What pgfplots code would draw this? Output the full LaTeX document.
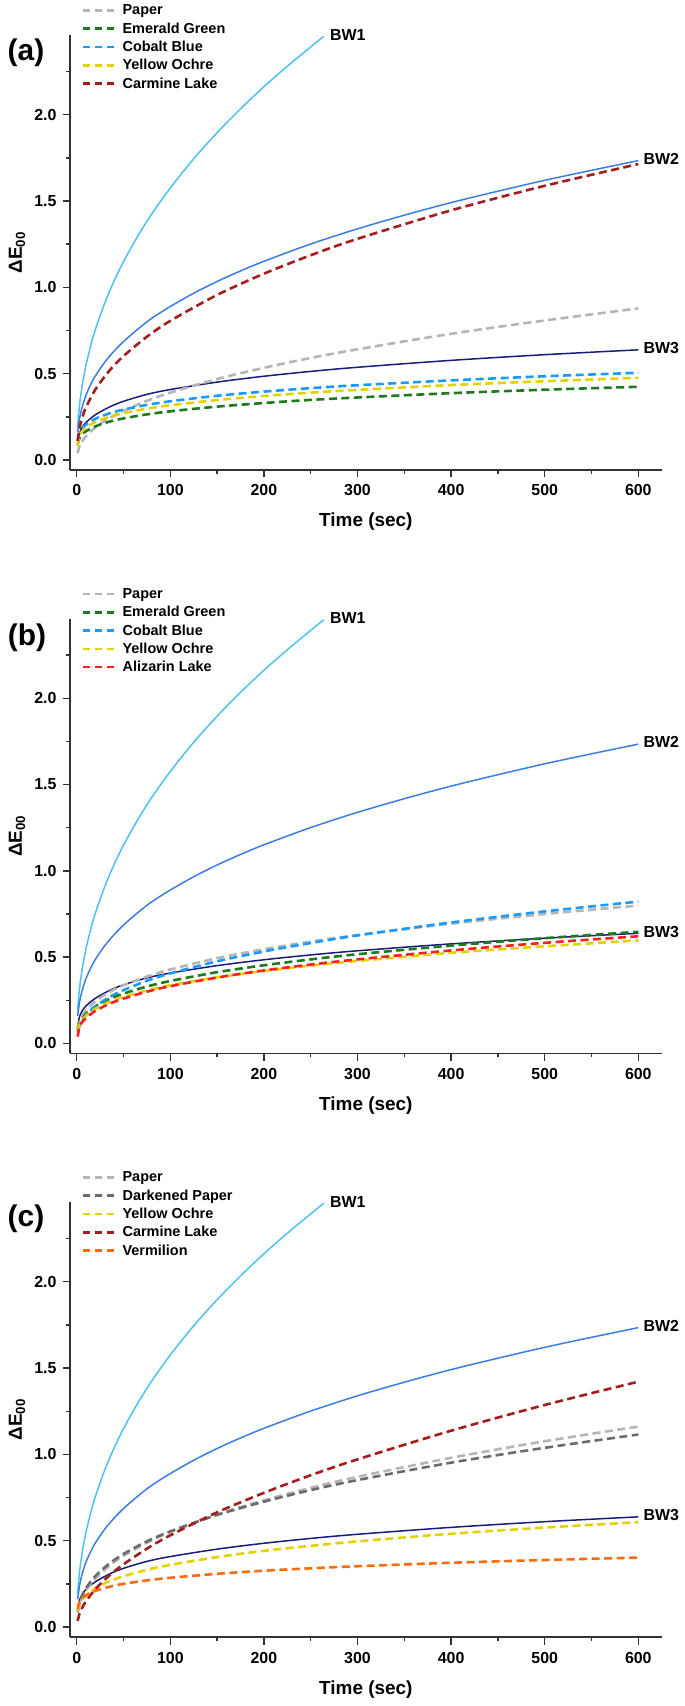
\documentclass[border=0pt]{standalone}
\usepackage{fontspec}
\setmainfont{Liberation Sans}
\usepackage{pgfplots}
\pgfplotsset{compat=1.18}
\definecolor{axgrey}{HTML}{333333}
\definecolor{bwone}{HTML}{4CC2F1}
\definecolor{bwtwo}{HTML}{3B7DE3}
\definecolor{bwthree}{HTML}{1B1B7E}
\definecolor{paper}{HTML}{B5B5B5}
\definecolor{dpaper}{HTML}{6B6B6B}
\definecolor{emerald}{HTML}{1D7A1D}
\definecolor{cobalt}{HTML}{1A9BFF}
\definecolor{ochre}{HTML}{E3D100}
\definecolor{carmine}{HTML}{A51C1C}
\definecolor{alizarin}{HTML}{FF1F1F}
\definecolor{vermilion}{HTML}{FF6A0D}
\tikzset{bwlab/.style={anchor=west, inner sep=0pt, font=\fontsize{16}{16}\selectfont\bfseries}}
\pgfplotsset{
  panel/.style={
    anchor=south west, scale only axis, width=591.7bp, height=434.5bp,
    xmin=-7.2, xmax=625, ymin=-0.058, ymax=2.459, clip=false,
    axis x line=bottom, axis y line=left,
    axis line style={-, line width=1.8bp, draw=axgrey},
    xtick={0,100,200,300,400,500,600}, ytick={0,0.5,1.0,1.5,2.0},
    minor xtick={50,150,250,350,450,550}, minor ytick={0.25,0.75,1.25,1.75,2.25},
    tick align=outside, major tick length=7.5bp, minor tick length=4bp,
    every tick/.style={line width=1.4bp, draw=axgrey},
    /pgf/number format/assume math mode=true,
    tick label style={font=\fontsize{16}{16}\selectfont\bfseries, inner sep=0pt},
    xticklabel style={anchor=base, yshift=-18.5bp},
    yticklabel style={anchor=east, xshift=-5.8bp},
    yticklabel={\pgfmathprintnumber[fixed,fixed zerofill,precision=1]{\tick}},
    xlabel={Time (sec)},
    xlabel style={at={(axis description cs:0.5,0)}, anchor=base, yshift=-57bp, font=\fontsize{19}{19}\selectfont\bfseries, inner sep=0pt},
    ylabel={ΔE\textsubscript{00}},
    ylabel style={at={(axis description cs:-0.0896,0.5)}, anchor=center, font=\fontsize{19}{19}\selectfont\bfseries, inner sep=0pt},
    legend style={at={(axis description cs:0.02028,0.9733)}, anchor=west, draw=none, fill=none,
      inner sep=0pt, outer sep=0pt, row sep=1.3bp,
      font=\fontsize{14.5}{14.5}\selectfont\bfseries,
      nodes={inner sep=1bp, text height=12bp, text depth=3bp}},
    legend cell align=left,
    legend image code/.code={\draw[##1, dash pattern=on 7bp off 5bp] (0bp,0bp) -- (31bp,0bp); \path (37bp,0bp);},
  },
  bw/.style={smooth, line width=1.5bp, forget plot},
  dsh/.style={smooth, line width=2.6bp, dash pattern=on 8bp off 4.5bp},
}
\newcommand{\bwcurves}{%
  \addplot[bw, bwone] coordinates {(1,0.19)(2,0.265)(3,0.318)(4,0.363)(6,0.437)(8,0.498)(10,0.552)(15,0.664)(20,0.757)(30,0.910)(40,1.038)(50,1.149)(65,1.295)(80,1.424)(100,1.576)(125,1.745)(150,1.896)(175,2.034)(200,2.162)(225,2.281)(250,2.393)(264,2.455)};
  \addplot[bw, bwtwo] coordinates {(1,0.16)(3,0.24)(6,0.311)(10,0.377)(15,0.438)(20,0.488)(30,0.567)(40,0.631)(50,0.686)(65,0.757)(80,0.82)(100,0.889)(125,0.966)(150,1.034)(175,1.095)(200,1.151)(250,1.251)(300,1.339)(350,1.418)(400,1.491)(450,1.557)(500,1.62)(550,1.678)(600,1.734)};
  \addplot[bw, bwthree] coordinates {(1,0.10)(3,0.155)(6,0.19)(10,0.218)(20,0.262)(35,0.307)(50,0.340)(75,0.380)(100,0.408)(150,0.451)(200,0.485)(250,0.513)(300,0.537)(400,0.577)(500,0.610)(600,0.638)};
}
\newcommand{\bwlabels}{%
  \node[bwlab, xshift=6bp, yshift=1.6bp] at (axis cs:264,2.455) {BW1};
  \node[bwlab, xshift=5bp, yshift=2bp] at (axis cs:600,1.734) {BW2};
  \node[bwlab, xshift=5bp, yshift=1.4bp] at (axis cs:600,0.638) {BW3};
}
\begin{document}
\begin{tikzpicture}
\path[use as bounding box] (0,0) rectangle (685bp,1706bp);
% ---------------- (a)
\begin{axis}[panel, at={(70bp,1236bp)}]
\bwcurves
\addplot[dsh, paper] coordinates {(1,0.04)(3,0.08)(6,0.109)(10,0.138)(20,0.189)(35,0.243)(50,0.285)(75,0.343)(100,0.39)(150,0.469)(200,0.534)(250,0.591)(300,0.641)(400,0.731)(500,0.808)(600,0.878)};
\addlegendentry{Paper}
\addplot[dsh, emerald] coordinates {(1,0.09)(3,0.127)(6,0.149)(10,0.167)(20,0.195)(35,0.222)(50,0.241)(75,0.264)(100,0.282)(150,0.309)(200,0.33)(250,0.348)(300,0.362)(400,0.387)(500,0.407)(600,0.424)};
\addlegendentry{Emerald Green}
\addplot[dsh, cobalt] coordinates {(1,0.115)(3,0.157)(6,0.183)(10,0.205)(20,0.239)(35,0.27)(50,0.292)(75,0.319)(100,0.34)(150,0.372)(200,0.396)(250,0.416)(300,0.433)(400,0.461)(500,0.485)(600,0.505)};
\addlegendentry{Cobalt Blue}
\addplot[dsh, ochre] coordinates {(1,0.08)(3,0.143)(6,0.167)(10,0.188)(20,0.22)(35,0.25)(50,0.271)(75,0.297)(100,0.317)(150,0.347)(200,0.371)(250,0.39)(300,0.406)(400,0.434)(500,0.456)(600,0.476)};
\addlegendentry{Yellow Ochre}
\addplot[dsh, carmine] coordinates {(1,0.11)(3,0.184)(6,0.247)(10,0.306)(20,0.409)(35,0.518)(50,0.602)(75,0.714)(100,0.806)(150,0.956)(200,1.079)(250,1.186)(300,1.281)(400,1.446)(500,1.588)(600,1.714)};
\addlegendentry{Carmine Lake}
\bwlabels
\end{axis}
% ---------------- (b)
\begin{axis}[panel, at={(70bp,652.5bp)}]
\bwcurves
\addplot[dsh, paper] coordinates {(1,0.087)(3,0.127)(6,0.162)(10,0.193)(20,0.245)(35,0.298)(50,0.337)(75,0.388)(100,0.429)(150,0.494)(200,0.546)(250,0.59)(300,0.628)(400,0.694)(500,0.75)(600,0.799)};
\addlegendentry{Paper}
\addplot[dsh, emerald] coordinates {(1,0.081)(3,0.116)(6,0.145)(10,0.172)(20,0.215)(35,0.258)(50,0.289)(75,0.33)(100,0.362)(150,0.413)(200,0.453)(250,0.487)(300,0.517)(400,0.567)(500,0.61)(600,0.647)};
\addlegendentry{Emerald Green}
\addplot[dsh, cobalt] coordinates {(1,0.067)(3,0.102)(6,0.134)(10,0.164)(20,0.216)(35,0.269)(50,0.309)(75,0.363)(100,0.406)(150,0.476)(200,0.533)(250,0.582)(300,0.626)(400,0.701)(500,0.765)(600,0.822)};
\addlegendentry{Cobalt Blue}
\addplot[dsh, ochre] coordinates {(1,0.077)(3,0.11)(6,0.137)(10,0.161)(20,0.201)(35,0.241)(50,0.27)(75,0.307)(100,0.337)(150,0.383)(200,0.42)(250,0.451)(300,0.478)(400,0.525)(500,0.563)(600,0.597)};
\addlegendentry{Yellow Ochre}
\addplot[dsh, alizarin] coordinates {(1,0.04)(3,0.097)(6,0.124)(10,0.148)(20,0.189)(35,0.23)(50,0.26)(75,0.3)(100,0.332)(150,0.382)(200,0.423)(250,0.457)(300,0.487)(400,0.539)(500,0.583)(600,0.621)};
\addlegendentry{Alizarin Lake}
\bwlabels
\end{axis}
% ---------------- (c)
\begin{axis}[panel, at={(70bp,69bp)}]
\bwcurves
\addplot[dsh, paper] coordinates {(1,0.081)(3,0.128)(6,0.17)(10,0.211)(20,0.281)(35,0.355)(50,0.412)(75,0.488)(100,0.55)(150,0.651)(200,0.734)(250,0.806)(300,0.87)(400,0.98)(500,1.076)(600,1.161)};
\addlegendentry{Paper}
\addplot[dsh, dpaper] coordinates {(1,0.092)(3,0.141)(6,0.185)(10,0.226)(20,0.296)(35,0.368)(50,0.423)(75,0.496)(100,0.554)(150,0.649)(200,0.726)(250,0.793)(300,0.851)(400,0.952)(500,1.038)(600,1.115)};
\addlegendentry{Darkened Paper}
\addplot[dsh, ochre] coordinates {(1,0.094)(3,0.129)(6,0.158)(10,0.184)(20,0.225)(35,0.265)(50,0.294)(75,0.331)(100,0.36)(150,0.405)(200,0.441)(250,0.47)(300,0.496)(400,0.54)(500,0.576)(600,0.607)};
\addlegendentry{Yellow Ochre}
\addplot[dsh, carmine] coordinates {(1,0.035)(3,0.078)(6,0.113)(10,0.15)(20,0.22)(35,0.299)(50,0.363)(75,0.454)(100,0.531)(150,0.664)(200,0.777)(250,0.879)(300,0.971)(400,1.137)(500,1.286)(600,1.421)};
\addlegendentry{Carmine Lake}
\addplot[dsh, vermilion] coordinates {(1,0.105)(3,0.146)(6,0.167)(10,0.184)(20,0.21)(35,0.233)(50,0.25)(75,0.27)(100,0.285)(150,0.308)(200,0.326)(250,0.34)(300,0.352)(400,0.372)(500,0.388)(600,0.402)};
\addlegendentry{Vermilion}
\bwlabels
\end{axis}
\node[font=\fontsize{30}{30}\selectfont\bfseries, inner sep=0pt] at (26bp,1653.5bp) {(a)};
\node[font=\fontsize{30}{30}\selectfont\bfseries, inner sep=0pt] at (27bp,1068.7bp) {(b)};
\node[font=\fontsize{30}{30}\selectfont\bfseries, inner sep=0pt] at (26bp,487.7bp) {(c)};
\end{tikzpicture}
\end{document}
